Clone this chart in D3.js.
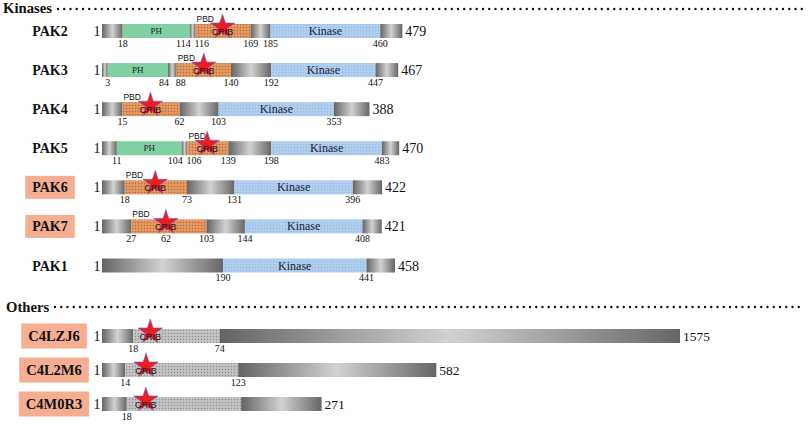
<!DOCTYPE html>
<html>
<head>
<meta charset="utf-8">
<script src="https://cdn.jsdelivr.net/npm/d3@7"></script>
<style>
  body { margin: 0; background: #fff; }
  svg { display: block; }
  .serif { font-family: "Liberation Serif", "Times New Roman", "DejaVu Serif", serif; }
  .sans { font-family: "Liberation Sans", Arial, "DejaVu Sans", sans-serif; }
</style>
</head>
<body>
<svg width="809" height="424"></svg>
<script>
// ---- data (residue numbers) ----
const kinaseNames = ["PAK2", "PAK3", "PAK4", "PAK5", "PAK6", "PAK7", "PAK1"];
const kinaseLengths = [479, 467, 388, 470, 422, 421, 458];
const kinaseDomains = [
    [["PH", 18, 114], ["CRIB", 116, 169], ["Kinase", 185, 460]],
    [["PH", 3, 84], ["CRIB", 88, 140], ["Kinase", 192, 447]],
    [["CRIB", 15, 62], ["Kinase", 103, 353]],
    [["PH", 11, 104], ["CRIB", 106, 139], ["Kinase", 198, 483]],
    [["CRIB", 18, 73], ["Kinase", 131, 396]],
    [["CRIB", 27, 103], ["Kinase", 144, 408]],
    [["Kinase", 190, 441]]
];
const kinaseTicks = [
    [18, 114, 116, 169, 185, 460],
    [3, 84, 88, 140, 192, 447],
    [15, 62, 103, 353],
    [11, 104, 106, 139, 198, 483],
    [18, 73, 131, 396],
    [27, 62, 103, 144, 408],
    [190, 441]
];
const kinaseStarSites = [142, 114, 38, 122, 45, 62, null];

const otherNames = ["C4LZJ6", "C4L2M6", "C4M0R3"];
const otherLengths = [1575, 582, 271];
const otherDomains = [
    [["CRIB", 18, 74]],
    [["CRIB", 14, 123]],
    [["CRIB", 18, 150]]
];
const otherTicks = [[18, 74], [14, 123], [18]];
const otherStarSites = [29, 34, 40];

const highlighted = ["PAK6", "PAK7", "C4LZJ6", "C4L2M6", "C4M0R3"];

// ---- setup ----
const svg = d3.select("svg");
const x0 = 102;
const barH = 14;

// schematic figure: total bar length grows sub-linearly with protein length
const widthScale = d3.scalePow().exponent(0.55).domain([0, 1575]).range([0, 578]);
// each segment's share of the bar, compressed for long stretches
const segWeight = d3.scalePow().exponent(0.6).domain([0, 1]).range([0, 1]);
// drawn domains are a bit wider than plain linkers
const domainBoost = {PH: 1.15, CRIB: 1.35, Kinase: 1.0};

const defs = svg.append("defs");

const grayGrad = defs.append("linearGradient").attr("id", "grayGrad")
    .attr("x1", 0).attr("x2", 1).attr("y1", 0).attr("y2", 0);
grayGrad.append("stop").attr("offset", "0%").attr("stop-color", "#646464");
grayGrad.append("stop").attr("offset", "50%").attr("stop-color", "#d2d2d2");
grayGrad.append("stop").attr("offset", "100%").attr("stop-color", "#666");

function dotPattern(id, base, dark, light) {
    const p = defs.append("pattern").attr("id", id)
        .attr("patternUnits", "userSpaceOnUse").attr("width", 3).attr("height", 3);
    p.append("rect").attr("width", 3).attr("height", 3).attr("fill", base);
    p.append("rect").attr("x", 0).attr("y", 0).attr("width", 1).attr("height", 1).attr("fill", dark);
    p.append("rect").attr("x", 1.5).attr("y", 1.5).attr("width", 1).attr("height", 1).attr("fill", light);
}
dotPattern("cribPat", "#de9059", "#b96a38", "#f1b890");
dotPattern("kinPat", "#aacbed", "#98bbe3", "#c8def5");
dotPattern("grayPat", "#bcbcbc", "#8e8e8e", "#dcdcdc");

const domainFill = {
    PH: "#80d0a3",
    Kinase: "url(#kinPat)"
};

function rowLayout(length, domains) {
    const breaks = [1];
    domains.forEach(d => breaks.push(d[1], d[2]));
    breaks.push(length);
    const names = d3.pairs(breaks).map((p, i) => i % 2 === 1 ? domains[(i - 1) / 2][0] : null);
    const lens = d3.pairs(breaks).map(([a, b]) => Math.max(2, Math.abs(b - a)));
    const cum = [0, ...d3.cumsum(lens.map((l, i) => segWeight(l) * (names[i] ? domainBoost[names[i]] : 1)))];
    const x = d3.scaleLinear()
        .domain([0, cum[cum.length - 1]])
        .range([x0, x0 + widthScale(length)]);
    const pos = v => {
        for (let i = 0; i < breaks.length - 1; i++) {
            const a = breaks[i], b = breaks[i + 1];
            if (v >= Math.min(a, b) && v <= Math.max(a, b)) {
                const t = a === b ? 0 : (v - a) / (b - a);
                return x(cum[i] + t * (cum[i + 1] - cum[i]));
            }
        }
        return x.range()[1];
    };
    const segs = names.map((n, i) => ({x1: x(cum[i]), x2: x(cum[i + 1]), domain: n}));
    return {pos, segs, end: x.range()[1]};
}

const star = d3.symbol().type(d3.symbolStar).size(185);

function drawSection(names, lengths, domains, ticks, stars, y, nameX, nameSize, boxH, others) {
    names.forEach((name, r) => {
        const cy = y(name);
        const lay = rowLayout(lengths[r], domains[r]);
        const g = svg.append("g");

        // protein name (boxed when highlighted)
        const label = g.append("text")
            .attr("class", "serif")
            .attr("x", nameX).attr("y", cy + 5)
            .attr("text-anchor", "middle")
            .attr("font-weight", "bold")
            .attr("font-size", nameSize).attr("fill", "#111")
            .text(name);
        if (highlighted.includes(name)) {
            const bb = label.node().getBBox();
            g.insert("rect", "text")
                .attr("x", bb.x - 7).attr("y", cy - boxH / 2)
                .attr("width", bb.width + 14).attr("height", boxH)
                .attr("fill", "#f5ae92");
        }

        // segments
        g.selectAll("rect.seg").data(lay.segs).join("rect")
            .attr("class", "seg")
            .attr("x", d => d.x1).attr("y", cy - barH / 2)
            .attr("width", d => Math.max(0, d.x2 - d.x1)).attr("height", barH)
            .attr("fill", d => d.domain === null ? "url(#grayGrad)"
                : d.domain === "CRIB" ? (others ? "url(#grayPat)" : "url(#cribPat)")
                : domainFill[d.domain]);

        // domain names
        g.selectAll("text.dom").data(lay.segs.filter(d => d.domain === "PH" || d.domain === "Kinase"))
            .join("text")
            .attr("class", "dom serif")
            .attr("x", d => (d.x1 + d.x2) / 2).attr("y", d => cy + (d.domain === "PH" ? 3 : 4))
            .attr("text-anchor", "middle")
            .attr("font-size", d => d.domain === "PH" ? 9 : 12)
            .attr("fill", "#1d1d35")
            .text(d => d.domain);

        // PBD label above CRIB
        if (!others) {
            lay.segs.filter(d => d.domain === "CRIB").forEach(d => {
                g.append("text")
                    .attr("class", "sans")
                    .attr("x", d.x1 + 1).attr("y", cy - barH / 2 - 2)
                    .attr("font-size", 8.5).attr("fill", "#111")
                    .text("PBD");
            });
        }

        // star + CRIB label
        if (stars[r] !== null) {
            const sx = lay.pos(stars[r]);
            g.append("path")
                .attr("d", star)
                .attr("transform", `translate(${sx},${cy - 4})`)
                .attr("fill", "#ec1c24")
                .attr("stroke", "#7b63b8").attr("stroke-width", 1).attr("stroke-opacity", 0.7);
            g.append("text")
                .attr("class", "sans")
                .attr("x", sx).attr("y", cy + 3.5)
                .attr("text-anchor", "middle")
                .attr("font-size", 9)
                .attr("fill", "#2b0d0d")
                .text("CRIB");
        }

        // start / end numbers
        g.append("text")
            .attr("class", "serif")
            .attr("x", x0 - 1.5).attr("y", cy + 5)
            .attr("text-anchor", "end")
            .attr("font-size", 14).attr("fill", "#111")
            .text("1");
        g.append("text")
            .attr("class", "serif")
            .attr("x", lay.end + 3).attr("y", cy + 5)
            .attr("font-size", others ? 13.5 : 14).attr("fill", "#111")
            .text(lengths[r]);

        // residue ticks below
        const tx = ticks[r].map(v => lay.pos(v));
        const close = (i, j) => j >= 0 && j < tx.length && Math.abs(tx[j] - tx[i]) < 18;
        g.selectAll("text.tick").data(ticks[r]).join("text")
            .attr("class", "tick serif")
            .attr("x", (v, i) => tx[i])
            .attr("y", cy + 15.5)
            .attr("text-anchor", (v, i) => close(i, i + 1) ? "end" : close(i, i - 1) ? "start" : "middle")
            .attr("dx", (v, i) => close(i, i + 1) ? 1 : close(i, i - 1) ? -1 : 0)
            .attr("font-size", 10).attr("fill", "#111")
            .text(v => v);
    });
}

function sectionHeader(title, tx, ty, lineX1, lineX2, lineY) {
    svg.append("text")
        .attr("class", "serif")
        .attr("x", tx).attr("y", ty)
        .attr("font-weight", "bold")
        .attr("font-size", 14.7).attr("fill", "#111")
        .text(title);
    svg.append("line")
        .attr("x1", lineX1).attr("x2", lineX2)
        .attr("y1", lineY).attr("y2", lineY)
        .attr("stroke", "#111").attr("stroke-width", 2.4)
        .attr("stroke-linecap", "round")
        .attr("stroke-dasharray", "0,6.25");
}

sectionHeader("Kinases", 3, 13, 58, 806, 9);
sectionHeader("Others", 6, 312, 55, 800, 307);

const yKin = d3.scalePoint().domain(kinaseNames).range([31, 265.5]);
const yOth = d3.scalePoint().domain(otherNames).range([336, 404]);

drawSection(kinaseNames, kinaseLengths, kinaseDomains, kinaseTicks, kinaseStarSites,
    yKin, 50, 14, 23, false);
drawSection(otherNames, otherLengths, otherDomains, otherTicks, otherStarSites,
    yOth, 54, 14.5, 25, true);
</script>
</body>
</html>
